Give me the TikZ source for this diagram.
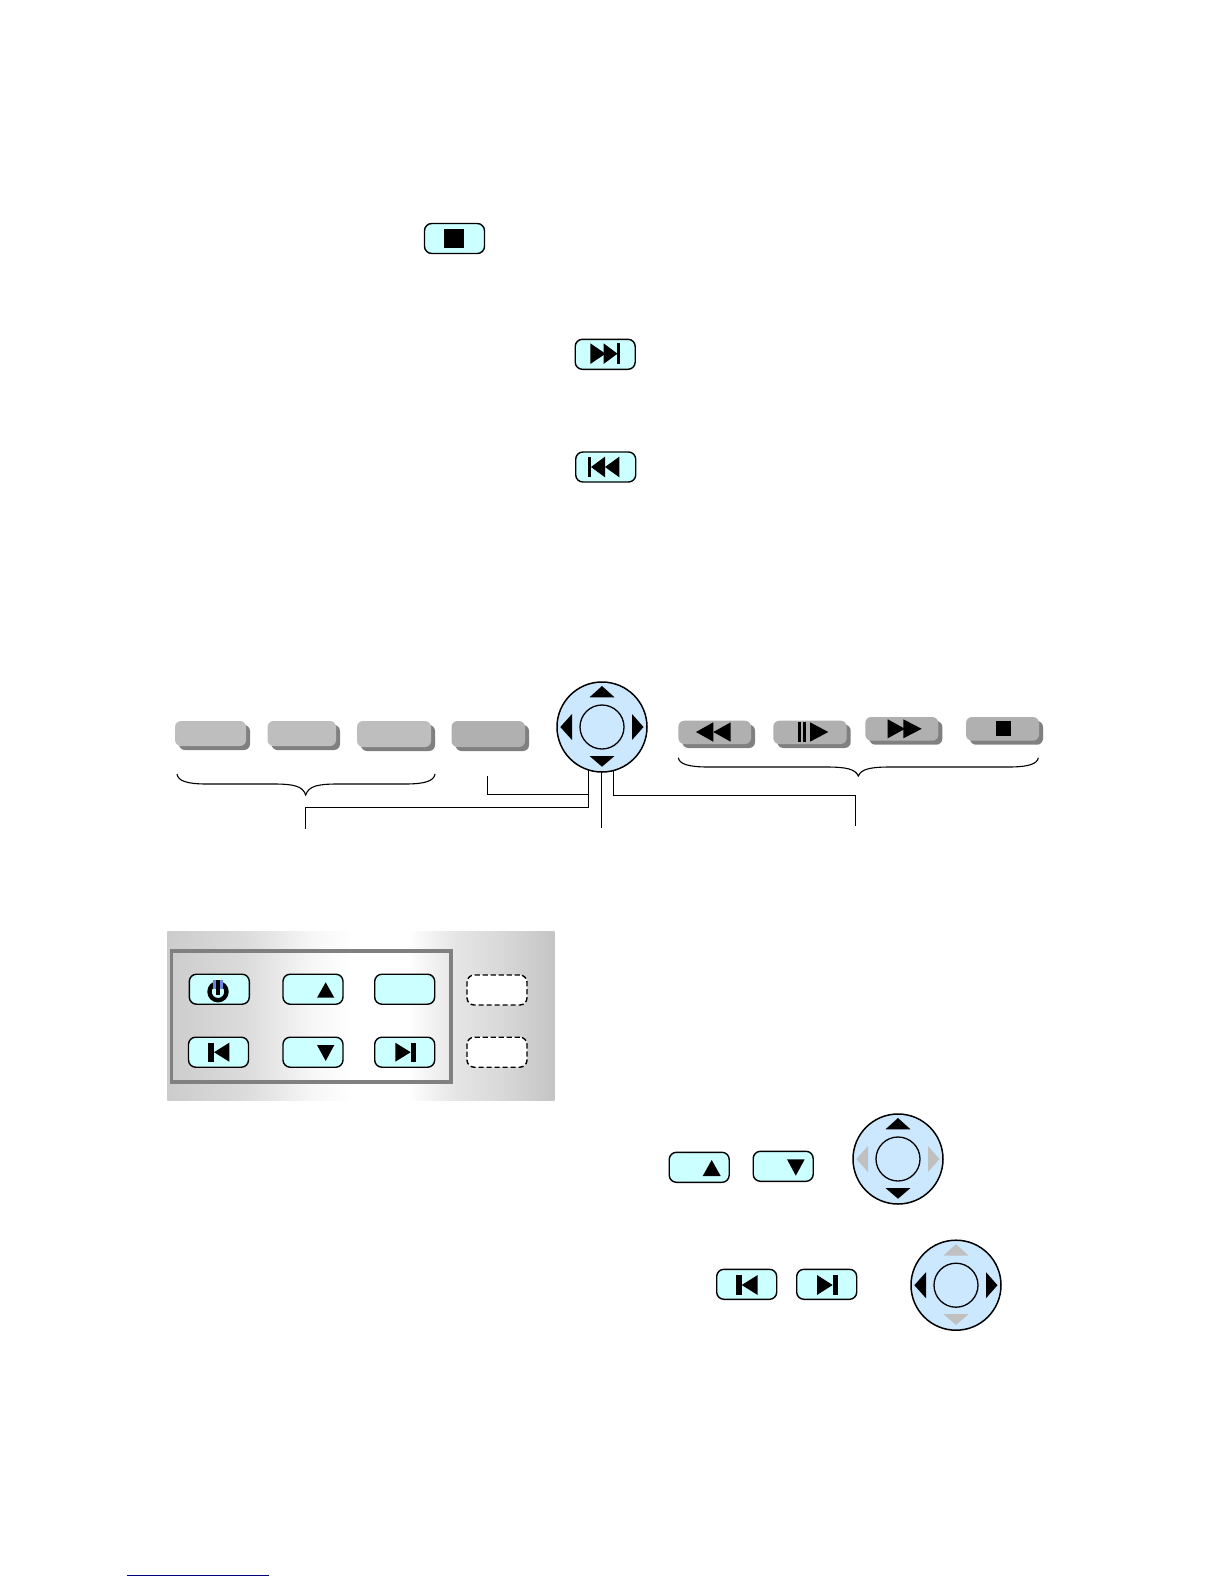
\documentclass[tikz,border=0pt]{standalone}
\usetikzlibrary{calc}
\definecolor{btnfill}{RGB}{204,255,255}
\definecolor{dialfill}{RGB}{204,232,255}
\definecolor{graya}{RGB}{190,190,190}
\definecolor{grayb}{RGB}{176,176,176}
\definecolor{grays}{RGB}{128,128,128}
\definecolor{dimarrow}{RGB}{192,192,192}
\definecolor{powerblue}{RGB}{105,135,225}
\definecolor{footnavy}{RGB}{0,0,128}
\pgfdeclarehorizontalshading{panelshade}{100bp}{%
 color(0bp)=(black!20);
 color(25bp)=(black!20);
 color(35bp)=(black!14);
 color(44bp)=(black!3);
 color(49bp)=(white);
 color(56bp)=(white);
 color(62bp)=(black!10);
 color(68bp)=(black!15);
 color(75bp)=(black!23);
 color(100bp)=(black!23)}
\tikzset{
 x=0.5bp,y=-0.5bp,
 btn/.style={draw=black,line width=0.7bp,fill=btnfill,rounded corners=3.6bp,
  minimum width=30bp,minimum height=15bp,inner sep=0pt,outer sep=0pt},
 dashbtn/.style={btn,fill=white,dash pattern=on 2.6bp off 1.4bp},
 dialbody/.style={circle,draw=black,line width=0.75bp,fill=dialfill,minimum size=45bp,inner sep=0pt,outer sep=0pt},
 dialcore/.style={circle,draw=black,line width=0.65bp,fill=dialfill,minimum size=22bp,inner sep=0pt,outer sep=0pt},
 grayface/.style={fill=graya,rounded corners=3bp,inner sep=0pt,outer sep=0pt},
 grayshade/.style={fill=grays,rounded corners=3bp,inner sep=0pt,outer sep=0pt},
 wire/.style={draw=black,line width=0.5bp},
 bracket/.style={draw=black,line width=0.55bp},
 icon/.style={fill=black,draw=none},
}
% name, x1, y1, x2, y2, face colour
\newcommand\graykey[6]{%
 \node[grayshade,minimum width={(#4-#2)*0.5bp},minimum height={(#5-#3)*0.5bp}] (#1s) at ({(#2+#4)/2+4},{(#3+#5)/2+4}) {};
 \node[grayface,fill=#6,minimum width={(#4-#2)*0.5bp},minimum height={(#5-#3)*0.5bp}] (#1) at ({(#2+#4)/2},{(#3+#5)/2}) {};}
% name, cx, cy, up/down colour, left/right colour
\newcommand\dialpic[5]{%
 \node[dialbody] (#1) at (#2,#3) {};
 \node[dialcore] (#1core) at (#2,#3) {};
 \begin{scope}[shift={(#2,#3)}]
  \fill[#4] (0,-41) -- (12.5,-29.7) -- (-12.5,-29.7) -- cycle;
  \fill[#4] (0,39.7) -- (12.5,29) -- (-12.5,29) -- cycle;
  \fill[#5] (-41.7,0) -- (-30,-13) -- (-30,13) -- cycle;
  \fill[#5] (41.5,0) -- (30,-13) -- (30,13) -- cycle;
 \end{scope}}
% x1,x2,xm,ytop,yflat,ytip
\newcommand\bracepath[6]{%
 \draw[bracket] (#1,#4) .. controls ({#1+1},{#5-3}) and ({#1+10},#5) .. ({#1+30},#5)
  -- ({#3-32},#5) .. controls ({#3-12},#5) and ({#3-3},{#5+2}) .. (#3,#6)
  .. controls ({#3+3},{#5+2}) and ({#3+12},#5) .. ({#3+32},#5)
  -- ({#2-30},#5) .. controls ({#2-10},#5) and ({#2-1},{#5-3}) .. (#2,#4);}
\begin{document}
\begin{tikzpicture}
\useasboundingbox (0,0) rectangle (1224,1584);
\fill[white] (0,0) rectangle (1224,1584);

% top keys
\node[btn] (stopkey) at (454.5,238.5) {};
\fill[icon] (444,229) rectangle (464,248.3);
\node[btn] (nextkey) at (605.2,354.3) {};
\fill[icon] (590.3,343.3) -- (605.5,353.7) -- (590.3,364) -- cycle;
\fill[icon] (603.5,343.3) -- (617.5,353.7) -- (603.5,364) -- cycle;
\fill[icon] (617.3,343.3) rectangle (620.3,364);
\node[btn] (prevkey) at (605.7,467) {};
\fill[icon] (588.3,456.7) rectangle (591.3,477.3);
\fill[icon] (605,456.7) -- (591,467) -- (605,477.3) -- cycle;
\fill[icon] (619.3,456.7) -- (605,467) -- (619.3,477.3) -- cycle;

% remote row
\graykey{ga}{175}{721}{246}{746}{graya}
\graykey{gb}{267.5}{721}{336}{746}{graya}
\graykey{gc}{357}{721}{431}{747}{graya}
\graykey{gd}{451.5}{721}{525}{747}{grayb}
\graykey{ge}{678.3}{720.7}{751}{744}{grayb}
\graykey{gf}{773.3}{720.7}{846.7}{744}{grayb}
\graykey{gg}{865.3}{717}{938.3}{740.7}{grayb}
\graykey{gh}{966}{717}{1039}{740.7}{grayb}

\fill[icon] (696,732) -- (713.3,722.3) -- (713.3,741.7) -- cycle;
\fill[icon] (713.3,732) -- (730.7,722.3) -- (730.7,741.7) -- cycle;
\fill[icon] (798,722.3) rectangle (801,741.7);
\fill[icon] (802.7,722.3) rectangle (806,741.7);
\fill[icon] (810,722.3) -- (828.3,732) -- (810,741.7) -- cycle;
\fill[icon] (887.7,719.3) -- (905,728.8) -- (887.7,738.3) -- cycle;
\fill[icon] (903.3,719.3) -- (921.7,728.8) -- (903.3,738.3) -- cycle;
\fill[icon] (996,721) rectangle (1011,736);

% connectors sit below the dial
\coordinate (endA) at (305,829);
\coordinate (cornerA) at (305,807);
\coordinate (endB) at (601,828);
\coordinate (startC) at (487.5,776);
\coordinate (endC) at (587.5,794.5);
\coordinate (endD) at (855.5,825.7);

\dialpic{maindial}{602}{727}{black}{black}

\draw[wire] (maindial.-108) -- (maindial.-108 |- cornerA) -- (cornerA) -- (endA);
\draw[wire] (maindial.-91) -- (maindial.-91 |- endB);
\draw[wire] (startC) |- (endC);
\draw[wire] (maindial.-75) |- (endD |- 0,795.5) -- (endD);

\bracepath{177}{435}{305.7}{774}{784}{795}
\bracepath{678.3}{1038.3}{858.3}{757.7}{767}{776}

% front panel
\shade[shading=panelshade] (167.3,931.5) rectangle (554.7,1100.5);
\draw[draw=grays,line width=1.75bp] (171.7,951) rectangle (451,1082);

\node[btn] (powerkey) at (219.3,989.2) {};
\draw[black,line width=2.2bp] (218,991.7) circle (8.5);
\fill[powerblue] (213.3,980.3) rectangle (223,989);
\fill[icon] (216.2,980.3) rectangle (219.8,995);
\node[btn] (upkey) at (313,989.2) {};
\fill[icon] (325.7,982.3) -- (334.3,997.7) -- (317,997.7) -- cycle;
\node[btn] (blankkey) at (404.7,989.2) {};
\node[dashbtn] (dashtop) at (497,990) {};
\node[btn] (leftkey) at (218.5,1052.2) {};
\fill[icon] (208.3,1042.7) rectangle (214,1061.7);
\fill[icon] (229.3,1042.7) -- (214,1052.2) -- (229.3,1061.7) -- cycle;
\node[btn] (downkey) at (313,1052.2) {};
\fill[icon] (317,1045) -- (334.3,1045) -- (325.7,1061) -- cycle;
\node[btn] (rightkey) at (404.7,1052.2) {};
\fill[icon] (395.3,1042.7) -- (410.7,1052.2) -- (395.3,1061.7) -- cycle;
\fill[icon] (410.7,1042.7) rectangle (416,1061.7);
\node[dashbtn] (dashbot) at (497,1052.2) {};

% lower right
\node[btn] (upkeyb) at (699.2,1167.3) {};
\fill[icon] (711.7,1160) -- (720.7,1176) -- (702.7,1176) -- cycle;
\node[btn] (downkeyb) at (783.2,1166.3) {};
\fill[icon] (787,1159.3) -- (804.7,1159.3) -- (795.8,1175.7) -- cycle;
\dialpic{dialud}{898}{1159}{black}{dimarrow}

\node[btn] (leftkeyb) at (746.7,1284.3) {};
\fill[icon] (736,1275) rectangle (741.7,1295);
\fill[icon] (757.7,1275) -- (741.7,1285) -- (757.7,1295) -- cycle;
\node[btn] (rightkeyb) at (826.7,1284.3) {};
\fill[icon] (817,1275) -- (832.7,1285) -- (817,1295) -- cycle;
\fill[icon] (832.7,1275) rectangle (838,1295);
\dialpic{diallr}{956}{1285.2}{dimarrow}{black}

% footnote rule
\draw[footnavy,line width=0.5bp] (127,1575) -- (268.7,1575);
\end{tikzpicture}
\end{document}
